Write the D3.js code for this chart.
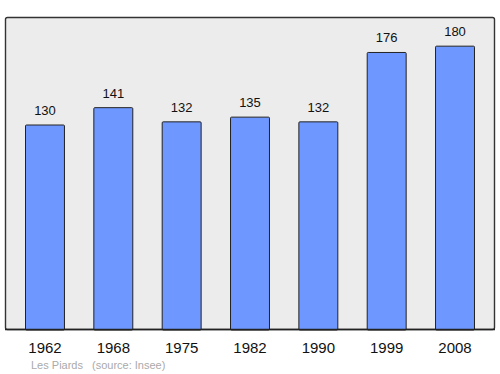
<!DOCTYPE html>
<html>
<head>
<meta charset="utf-8">
<script src="https://cdn.jsdelivr.net/npm/d3@7"></script>
<style>
  body { margin: 0; background: #fff; }
  text { font-family: "Liberation Sans", Arial, sans-serif; }
</style>
</head>
<body>
<script>
var years = ["1962", "1968", "1975", "1982", "1990", "1999", "2008"];
var population = [130, 141, 132, 135, 132, 176, 180];
var place = "Les Piards";
var source = "(source: Insee)";

var width = 500, height = 374;
var panel = {left: 5, right: 495, top: 17, bottom: 330};

var svg = d3.select("body").append("svg")
  .attr("width", width)
  .attr("height", height);

// grey panel behind the bars
svg.append("rect")
  .attr("x", panel.left + 0.5)
  .attr("y", panel.top + 0.5)
  .attr("width", panel.right - panel.left - 1)
  .attr("height", panel.bottom - panel.top - 1)
  .attr("rx", 2)
  .attr("fill", "#ececec")
  .attr("stroke", "#333")
  .attr("stroke-width", 1.4);

var x = d3.scaleBand()
  .domain(years)
  .range([panel.left, panel.right])
  .paddingInner(0.43)
  .paddingOuter(0.3);

var y = d3.scaleLinear()
  .domain([0, 198.5])
  .range([panel.bottom, panel.top]);

svg.selectAll("rect.bar")
  .data(population)
  .enter().append("rect")
  .attr("class", "bar")
  .attr("x", function(d, i) { return x(years[i]); })
  .attr("y", function(d) { return y(d); })
  .attr("width", x.bandwidth())
  .attr("height", function(d) { return panel.bottom - y(d); })
  .attr("rx", 1)
  .attr("fill", "#6e97ff")
  .attr("stroke", "#222")
  .attr("stroke-width", 1);

// value labels above bars
svg.selectAll("text.val")
  .data(population)
  .enter().append("text")
  .attr("class", "val")
  .attr("x", function(d, i) { return x(years[i]) + x.bandwidth() / 2; })
  .attr("y", function(d) { return y(d) - 10; })
  .attr("text-anchor", "middle")
  .attr("font-size", 13)
  .attr("fill", "#111")
  .text(function(d) { return d; });

// redraw the panel bottom line over the bar bases
svg.append("line")
  .attr("x1", panel.left)
  .attr("x2", panel.right)
  .attr("y1", panel.bottom - 0.5)
  .attr("y2", panel.bottom - 0.5)
  .attr("stroke", "#222")
  .attr("stroke-width", 1.4);

// year labels
var xAxis = d3.axisBottom(x).tickSize(0).tickPadding(0);
var ax = svg.append("g")
  .attr("transform", "translate(0," + panel.bottom + ")")
  .call(xAxis);
ax.select(".domain").remove();
ax.selectAll("text")
  .attr("y", 23)
  .attr("dy", 0)
  .attr("font-size", 15)
  .attr("font-family", "Liberation Sans, Arial, sans-serif")
  .attr("fill", "#111");

svg.append("text")
  .attr("x", 31)
  .attr("y", 369)
  .attr("font-size", 11)
  .attr("fill", "#aaa")
  .text(place);

svg.append("text")
  .attr("x", 92)
  .attr("y", 369)
  .attr("font-size", 11)
  .attr("fill", "#aaa")
  .text(source);
</script>
</body>
</html>
